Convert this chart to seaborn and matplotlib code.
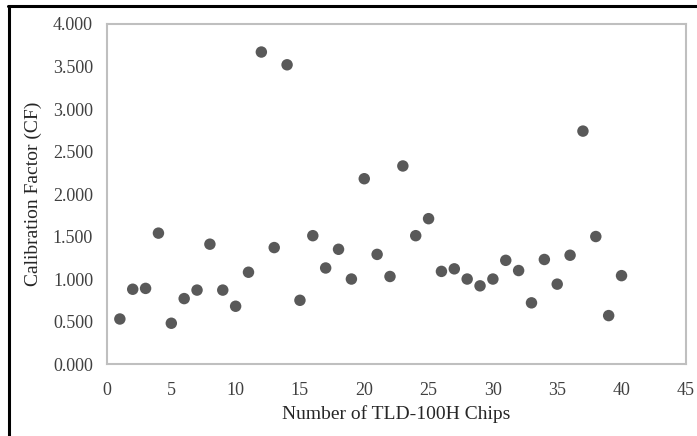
import numpy as np
import pandas as pd
import matplotlib
matplotlib.use("Agg")
import matplotlib.pyplot as plt
from matplotlib.lines import Line2D
import seaborn as sns

# ============ DATA ============
chip_no = list(range(1, 41))
cf_values = [0.53, 0.88, 0.89, 1.54, 0.48, 0.77, 0.87, 1.41, 0.87, 0.68,
             1.08, 3.67, 1.37, 3.52, 0.75, 1.51, 1.13, 1.35, 1.00, 2.18,
             1.29, 1.03, 2.33, 1.51, 1.71, 1.09, 1.12, 1.00, 0.92, 1.00,
             1.22, 1.10, 0.72, 1.23, 0.94, 1.28, 2.74, 1.50, 0.57, 1.04]
x_ticks = [0, 5, 10, 15, 20, 25, 30, 35, 40, 45]
y_ticks = [0.0, 0.5, 1.0, 1.5, 2.0, 2.5, 3.0, 3.5, 4.0]

df = pd.DataFrame({"chip": chip_no, "cf": cf_values})

# ============ STYLE ============
sns.set_style("white")
plt.rcParams['font.family'] = ['Liberation Serif', 'DejaVu Serif']

fig = plt.figure(figsize=(6.97, 4.36), dpi=100)
ax = fig.add_axes([0.1535, 0.165, 0.8305, 0.78])

sns.scatterplot(data=df, x="chip", y="cf", ax=ax, s=68,
                color="#595959", edgecolor="none", linewidth=0)

ax.set_xlim(0, 45)
ax.set_ylim(0, 4)
ax.set_xticks(x_ticks)
ax.set_yticks(y_ticks)
ax.set_yticklabels([f"{v:.3f}" for v in y_ticks])
ax.tick_params(axis="both", labelsize=13, colors="#404040", length=0)
ax.tick_params(axis="x", pad=13)
ax.tick_params(axis="y", pad=10)

for sp in ax.spines.values():
    sp.set_color("#bfbfbf")
    sp.set_linewidth(1.5)

ax.set_xlabel("Number of TLD-100H Chips", fontsize=14, color="#262626", labelpad=4)
ax.set_ylabel("Calibration Factor (CF)", fontsize=14, color="#262626", labelpad=8)

# black frame on top and left (cropped figure border)
fig.add_artist(Line2D([0.012, 1.0], [0.986, 0.986], color="black", lw=2.2,
                      transform=fig.transFigure))
fig.add_artist(Line2D([0.0125, 0.0125], [0.0, 0.986], color="black", lw=2.2,
                      transform=fig.transFigure))

plt.savefig("out.png", dpi=100)
plt.close()
